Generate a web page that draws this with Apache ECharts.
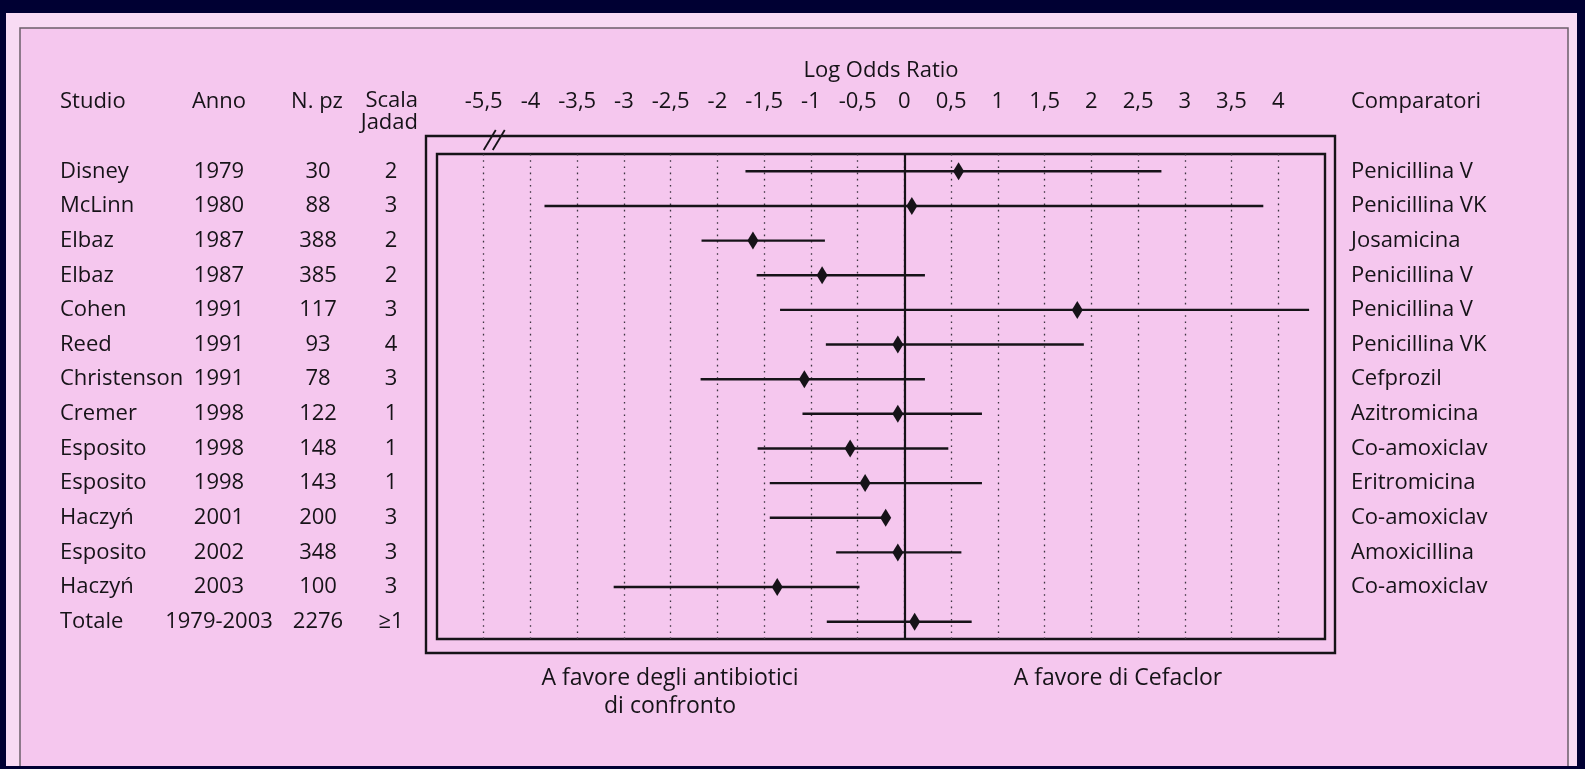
<!DOCTYPE html>
<html>
<head>
<meta charset="utf-8">
<script src="https://cdn.jsdelivr.net/npm/echarts@6/dist/echarts.min.js"></script>
<style>
  html, body { margin: 0; padding: 0; background: #000033; }
  #chart { width: 1585px; height: 769px; }
</style>
</head>
<body>
<div id="chart"></div>
<script>
// Studies in the meta-analysis, one row each (last row = pooled total)
const studies = ['Disney', 'McLinn', 'Elbaz', 'Elbaz', 'Cohen', 'Reed', 'Christenson', 'Cremer', 'Esposito', 'Esposito', 'Haczyń', 'Esposito', 'Haczyń', 'Totale'];
const years = ['1979', '1980', '1987', '1987', '1991', '1991', '1991', '1998', '1998', '1998', '2001', '2002', '2003', '1979-2003'];
const patients = ['30', '88', '388', '385', '117', '93', '78', '122', '148', '143', '200', '348', '100', '2276'];
const jadad = ['2', '3', '2', '2', '3', '4', '3', '1', '1', '1', '3', '3', '3', '≥1'];
const comparators = ['Penicillina V', 'Penicillina VK', 'Josamicina', 'Penicillina V', 'Penicillina V', 'Penicillina VK', 'Cefprozil', 'Azitromicina', 'Co-amoxiclav', 'Eritromicina', 'Co-amoxiclav', 'Amoxicillina', 'Co-amoxiclav', ''];

// Log odds ratio with its confidence interval
const logOR  = [0.58, 0.08, -1.62, -0.88, 1.85, -0.07, -1.07, -0.07, -0.58, -0.42, -0.20, -0.07, -1.36, 0.11];
const ciLow  = [-1.70, -3.85, -2.17, -1.58, -1.33, -0.84, -2.18, -1.09, -1.57, -1.44, -1.44, -0.73, -3.11, -0.83];
const ciHigh = [2.75, 3.84, -0.85, 0.22, 4.33, 1.92, 0.22, 0.83, 0.47, 0.83, -0.19, 0.61, -0.48, 0.72];

// Axis ticks; the first one sits past the "//" break, so -5,5 is drawn one step left of -4
const tickValues = [-4.5, -4, -3.5, -3, -2.5, -2, -1.5, -1, -0.5, 0, 0.5, 1, 1.5, 2, 2.5, 3, 3.5, 4];
const tickLabels = ['-5,5', '-4', '-3,5', '-3', '-2,5', '-2', '-1,5', '-1', '-0,5', '0', '0,5', '1', '1,5', '2', '2,5', '3', '3,5', '4'];

const headers = ['Studio', 'Anno', 'N. pz', 'Scala\nJadad', 'Comparatori'];
const captionLeft = 'A favore degli antibiotici\ndi confronto';
const captionRight = 'A favore di Cefaclor';
const axisTitle = 'Log Odds Ratio';

const W = 1585, H = 769;
const FONT = "'Open Sans', sans-serif";
const FS = 22;
const FW = 500;
const INK = '#161318';
const PINK = '#f5c7ee';
const G = { left: 437, right: 260, top: 154, bottom: 130 };
const gx1 = G.left, gx2 = W - G.right, gy1 = G.top, gy2 = H - G.bottom;

const rows = studies.map((_, i) => i);
const txt = (extra, size) => Object.assign({ fill: INK, font: FW + ' ' + (size || FS) + 'px ' + FONT }, extra);

function tableAxis(data, position, margin, align) {
  return {
    type: 'category', data: data, inverse: true, position: position, gridIndex: 0,
    axisLine: { show: false, onZero: false }, axisTick: { show: false }, splitLine: { show: false },
    axisLabel: { margin: margin, align: align, interval: 0, color: INK, fontFamily: FONT, fontSize: FS, fontWeight: FW }
  };
}

const chart = echarts.init(document.getElementById('chart'));

chart.setOption({
  backgroundColor: '#000033',
  animation: false,
  grid: {
    left: G.left, right: G.right, top: G.top, bottom: G.bottom,
    show: true, borderColor: INK, borderWidth: 2.4, backgroundColor: 'transparent'
  },
  xAxis: {
    type: 'value', min: -5, max: 4.5, interval: 0.5, position: 'top',
    axisLine: { show: false, onZero: false }, axisTick: { show: false },
    splitLine: {
      show: true, showMinLine: false, showMaxLine: false,
      lineStyle: { type: [1.6, 4.6], color: '#3d3540', width: 1.3 }
    },
    axisLabel: {
      margin: 52, verticalAlign: 'middle', color: INK, fontFamily: FONT, fontSize: FS, fontWeight: FW,
      formatter: function (v) {
        const i = tickValues.findIndex(t => Math.abs(t - v) < 1e-9);
        return i < 0 ? '' : tickLabels[i];
      }
    }
  },
  yAxis: [
    tableAxis(studies, 'left', G.left - 60, 'left'),
    tableAxis(years, 'left', G.left - 219, 'center'),
    tableAxis(patients, 'left', G.left - 318, 'center'),
    tableAxis(jadad, 'left', G.left - 391, 'center'),
    tableAxis(comparators, 'right', 1351 - gx2, 'left'),
    // row positions for the interval marks: row i sits at the centre of band i
    { type: 'value', min: -0.5, max: rows.length - 0.5, inverse: true, show: false, gridIndex: 0,
      axisLine: { onZero: false }, splitLine: { show: false } }
  ],
  series: [{
    type: 'custom',
    xAxisIndex: 0, yAxisIndex: 5,
    data: rows.map(i => [ciLow[i], ciHigh[i], logOR[i], i]),
    encode: { x: [0, 1, 2], y: 3 },
    renderItem: function (params, api) {
      const r = api.value(3);
      const a = api.coord([api.value(0), r]);
      const b = api.coord([api.value(1), r]);
      const m = api.coord([api.value(2), r]);
      return {
        type: 'group',
        children: [
          { type: 'line', shape: { x1: a[0], y1: a[1], x2: b[0], y2: b[1] }, style: { stroke: INK, lineWidth: 2.4 } },
          { type: 'polygon', shape: { points: [[m[0], m[1] - 9], [m[0] + 5.5, m[1]], [m[0], m[1] + 9], [m[0] - 5.5, m[1]]] }, style: { fill: INK } }
        ]
      };
    },
    markLine: {
      silent: true, symbol: 'none', label: { show: false },
      lineStyle: { type: 'solid', color: INK, width: 2.2 },
      data: [{ xAxis: 0 }]
    },
    z: 5
  }]
});

// Page panel, frames, headers and captions placed around the plotting grid
const breakX = chart.convertToPixel({ xAxisIndex: 0 }, tickValues[0]);
const axisMid = chart.convertToPixel({ xAxisIndex: 0 }, -0.25);

chart.setOption({
  graphic: [
    { type: 'rect', z: -10, shape: { x: 6, y: 13, width: 1571, height: 753 }, style: { fill: '#f8dbf4' } },
    { type: 'rect', z: -9, shape: { x: 20, y: 28, width: 1548, height: 738 }, style: { fill: PINK } },
    { type: 'polyline', z: -8, shape: { points: [[20, 766], [20, 28], [1568, 28], [1568, 766]] }, style: { stroke: '#6b5f6a', lineWidth: 1.5, fill: null } },
    // outer frame of the plot
    { type: 'rect', shape: { x: gx1 - 11, y: gy1 - 18, width: (gx2 - gx1) + 21, height: (gy2 - gy1) + 32 }, style: { fill: null, stroke: INK, lineWidth: 2.4 } },
    // axis break mark
    { type: 'line', shape: { x1: breakX + 0, y1: gy1 - 4, x2: breakX + 12, y2: gy1 - 24 }, style: { stroke: INK, lineWidth: 1.8 } },
    { type: 'line', shape: { x1: breakX + 9, y1: gy1 - 4, x2: breakX + 21, y2: gy1 - 24 }, style: { stroke: INK, lineWidth: 1.8 } },
    // column headers
    { type: 'text', style: txt({ text: headers[0], x: 60, y: 102, align: 'left', verticalAlign: 'middle' }) },
    { type: 'text', style: txt({ text: headers[1], x: 219, y: 102, align: 'center', verticalAlign: 'middle' }) },
    { type: 'text', style: txt({ text: headers[2], x: 317, y: 102, align: 'center', verticalAlign: 'middle' }) },
    { type: 'text', style: txt({ text: headers[3], x: 418, y: 90, align: 'right', verticalAlign: 'top', lineHeight: 22 }) },
    { type: 'text', style: txt({ text: headers[4], x: 1351, y: 102, align: 'left', verticalAlign: 'middle' }) },
    { type: 'text', style: txt({ text: axisTitle, x: axisMid, y: 71, align: 'center', verticalAlign: 'middle' }) },
    // captions under the plot
    { type: 'text', style: txt({ text: captionLeft, x: 670, y: 664, align: 'center', verticalAlign: 'top', lineHeight: 28 }, 23) },
    { type: 'text', style: txt({ text: captionRight, x: 1118, y: 664, align: 'center', verticalAlign: 'top', lineHeight: 28 }, 23) }
  ]
});
</script>
</body>
</html>
